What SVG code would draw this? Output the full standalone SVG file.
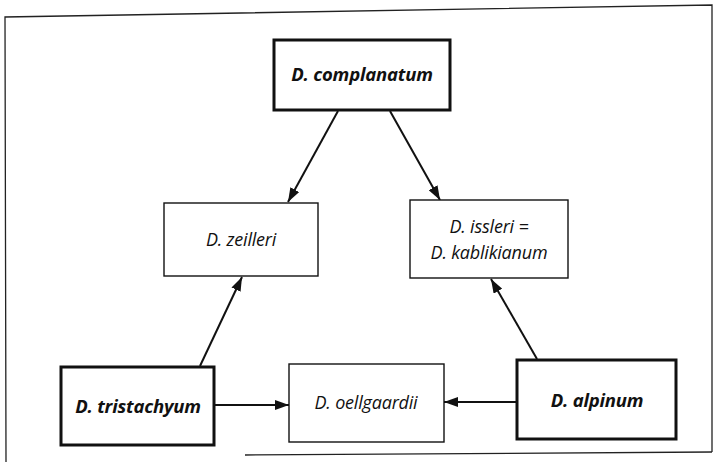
<svg xmlns="http://www.w3.org/2000/svg" width="715" height="468" viewBox="0 0 715 468">
<defs>
<style>
.frame{fill:none;stroke:#222;stroke-width:1.3}
.bold{fill:#fff;stroke:#111;stroke-width:3}
.thin{fill:#fff;stroke:#111;stroke-width:1.4}
.tb{font-family:"Open Sans","Noto Sans",sans-serif;font-style:italic;font-weight:bold;font-size:18.5px;fill:#111;text-anchor:middle;letter-spacing:-0.2px}
.tr{font-family:"Open Sans","Noto Sans",sans-serif;font-style:italic;font-size:18px;fill:#111;text-anchor:middle;letter-spacing:-0.2px}
.edge{stroke:#111;stroke-width:2;fill:none;marker-end:url(#ah)}
</style>
<marker id="ah" viewBox="0 0 14 10" refX="14" refY="5" markerWidth="14" markerHeight="10" markerUnits="userSpaceOnUse" orient="auto">
<path d="M0,0 L14,5 L0,10 Z" fill="#111"/>
</marker>
</defs>
<rect width="715" height="468" fill="#fff"/>
<g id="frame">
<polyline class="frame" points="6,462 5,17 712,5 712,452"/>
<line class="frame" x1="245" y1="455" x2="712" y2="452"/>
</g>
<g id="connectors">
<line class="edge" x1="338" y1="111" x2="288" y2="202"/>
<line class="edge" x1="390" y1="111" x2="440" y2="200"/>
<line class="edge" x1="200" y1="366" x2="242" y2="277"/>
<line class="edge" x1="537" y1="359" x2="491" y2="279"/>
<line class="edge" x1="215" y1="405" x2="289" y2="405"/>
<line class="edge" x1="517" y1="402" x2="444" y2="402"/>
</g>
<g id="complanatum">
<rect class="bold" x="274" y="40" width="176" height="70"/>
<text class="tb" x="362" y="81">D. complanatum</text>
</g>
<g id="zeilleri">
<rect class="thin" x="164" y="203" width="154" height="73"/>
<text class="tr" x="241" y="246">D. zeilleri</text>
</g>
<g id="issleri">
<rect class="thin" x="410" y="200" width="158" height="78"/>
<text class="tr" x="489" y="233">D. issleri =</text>
<text class="tr" x="489" y="259">D. kablikianum</text>
</g>
<g id="tristachyum">
<rect class="bold" x="61" y="367" width="153" height="78"/>
<text class="tb" x="138" y="413">D. tristachyum</text>
</g>
<g id="oellgaardii">
<rect class="thin" x="289" y="364" width="155" height="78"/>
<text class="tr" x="366" y="409">D. oellgaardii</text>
</g>
<g id="alpinum">
<rect class="bold" x="517" y="360" width="159" height="79"/>
<text class="tb" x="597" y="407">D. alpinum</text>
</g>
</svg>
